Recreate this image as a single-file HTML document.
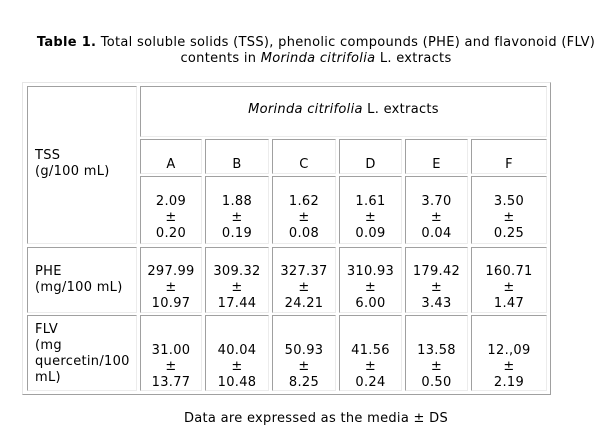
<!DOCTYPE html>
<html>
<head>
<meta charset="utf-8">
<style>
html,body{margin:0;padding:0;background:#fff;}
body{width:605px;height:444px;position:relative;overflow:hidden;font-family:"DejaVu Sans","Liberation Sans",sans-serif;font-size:13px;color:#000;letter-spacing:0.3px;}
.t{position:absolute;line-height:16px;white-space:nowrap;}
.c{position:absolute;box-sizing:border-box;border-top:1px solid #a0a0a0;border-left:1px solid #a0a0a0;border-right:1px solid #ececec;border-bottom:1px solid #ececec;}
.outer{position:absolute;box-sizing:border-box;left:22px;top:82px;width:529px;height:313px;border-top:1px solid #e6e6e6;border-left:1px solid #e6e6e6;border-right:1px solid #a0a0a0;border-bottom:1px solid #a0a0a0;}
.ctr{text-align:center;}
</style>
</head>
<body>

<div class="t ctr" style="left:0;width:632px;top:35px;"><b>Table 1.</b> Total soluble solids (TSS), phenolic compounds (PHE) and flavonoid (FLV)</div>
<div class="t ctr" style="left:0;width:632px;top:51px;">contents in <i>Morinda citrifolia</i> L. extracts</div>

<div class="outer"></div>

<!-- left column cells -->
<div class="c" style="left:27px;top:86px;width:110px;height:158px;"></div>
<div class="c" style="left:27px;top:247px;width:110px;height:66px;"></div>
<div class="c" style="left:27px;top:315px;width:110px;height:76px;"></div>

<!-- header -->
<div class="c" style="left:140px;top:86px;width:407px;height:51px;"></div>
<div class="t ctr" style="left:140px;width:407px;top:102px;"><i>Morinda citrifolia</i> L. extracts</div>

<!-- A -->
<div class="c" style="left:140px;top:139px;width:62px;height:35px;"></div>
<div class="c" style="left:140px;top:176px;width:62px;height:68px;"></div>
<div class="c" style="left:140px;top:247px;width:62px;height:66px;"></div>
<div class="c" style="left:140px;top:315px;width:62px;height:76px;"></div>
<!-- B -->
<div class="c" style="left:205px;top:139px;width:64px;height:35px;"></div>
<div class="c" style="left:205px;top:176px;width:64px;height:68px;"></div>
<div class="c" style="left:205px;top:247px;width:64px;height:66px;"></div>
<div class="c" style="left:205px;top:315px;width:64px;height:76px;"></div>
<!-- C -->
<div class="c" style="left:272px;top:139px;width:64px;height:35px;"></div>
<div class="c" style="left:272px;top:176px;width:64px;height:68px;"></div>
<div class="c" style="left:272px;top:247px;width:64px;height:66px;"></div>
<div class="c" style="left:272px;top:315px;width:64px;height:76px;"></div>
<!-- D -->
<div class="c" style="left:339px;top:139px;width:63px;height:35px;"></div>
<div class="c" style="left:339px;top:176px;width:63px;height:68px;"></div>
<div class="c" style="left:339px;top:247px;width:63px;height:66px;"></div>
<div class="c" style="left:339px;top:315px;width:63px;height:76px;"></div>
<!-- E -->
<div class="c" style="left:405px;top:139px;width:63px;height:35px;"></div>
<div class="c" style="left:405px;top:176px;width:63px;height:68px;"></div>
<div class="c" style="left:405px;top:247px;width:63px;height:66px;"></div>
<div class="c" style="left:405px;top:315px;width:63px;height:76px;"></div>
<!-- F -->
<div class="c" style="left:471px;top:139px;width:76px;height:35px;"></div>
<div class="c" style="left:471px;top:176px;width:76px;height:68px;"></div>
<div class="c" style="left:471px;top:247px;width:76px;height:66px;"></div>
<div class="c" style="left:471px;top:315px;width:76px;height:76px;"></div>

<!-- row labels -->
<div class="t" style="left:35px;top:148px;">TSS<br>(g/100 mL)</div>
<div class="t" style="left:35px;top:264px;">PHE<br>(mg/100 mL)</div>
<div class="t" style="left:35px;top:322px;">FLV<br>(mg<br>quercetin/100<br>mL)</div>

<!-- letters -->
<div class="t ctr" style="left:140px;width:62px;top:157px;">A</div>
<div class="t ctr" style="left:205px;width:64px;top:157px;">B</div>
<div class="t ctr" style="left:272px;width:64px;top:157px;">C</div>
<div class="t ctr" style="left:339px;width:63px;top:157px;">D</div>
<div class="t ctr" style="left:405px;width:63px;top:157px;">E</div>
<div class="t ctr" style="left:471px;width:76px;top:157px;">F</div>

<!-- TSS values -->
<div class="t ctr" style="left:140px;width:62px;top:194px;">2.09<br>±<br>0.20</div>
<div class="t ctr" style="left:205px;width:64px;top:194px;">1.88<br>±<br>0.19</div>
<div class="t ctr" style="left:272px;width:64px;top:194px;">1.62<br>±<br>0.08</div>
<div class="t ctr" style="left:339px;width:63px;top:194px;">1.61<br>±<br>0.09</div>
<div class="t ctr" style="left:405px;width:63px;top:194px;">3.70<br>±<br>0.04</div>
<div class="t ctr" style="left:471px;width:76px;top:194px;">3.50<br>±<br>0.25</div>

<!-- PHE values -->
<div class="t ctr" style="left:140px;width:62px;top:264px;">297.99<br>±<br>10.97</div>
<div class="t ctr" style="left:205px;width:64px;top:264px;">309.32<br>±<br>17.44</div>
<div class="t ctr" style="left:272px;width:64px;top:264px;">327.37<br>±<br>24.21</div>
<div class="t ctr" style="left:339px;width:63px;top:264px;">310.93<br>±<br>6.00</div>
<div class="t ctr" style="left:405px;width:63px;top:264px;">179.42<br>±<br>3.43</div>
<div class="t ctr" style="left:471px;width:76px;top:264px;">160.71<br>±<br>1.47</div>

<!-- FLV values -->
<div class="t ctr" style="left:140px;width:62px;top:343px;">31.00<br>±<br>13.77</div>
<div class="t ctr" style="left:205px;width:64px;top:343px;">40.04<br>±<br>10.48</div>
<div class="t ctr" style="left:272px;width:64px;top:343px;">50.93<br>±<br>8.25</div>
<div class="t ctr" style="left:339px;width:63px;top:343px;">41.56<br>±<br>0.24</div>
<div class="t ctr" style="left:405px;width:63px;top:343px;">13.58<br>±<br>0.50</div>
<div class="t ctr" style="left:471px;width:76px;top:343px;">12.,09<br>±<br>2.19</div>

<div class="t ctr" style="left:0;width:632px;top:411px;">Data are expressed as the media ± DS</div>

</body>
</html>
